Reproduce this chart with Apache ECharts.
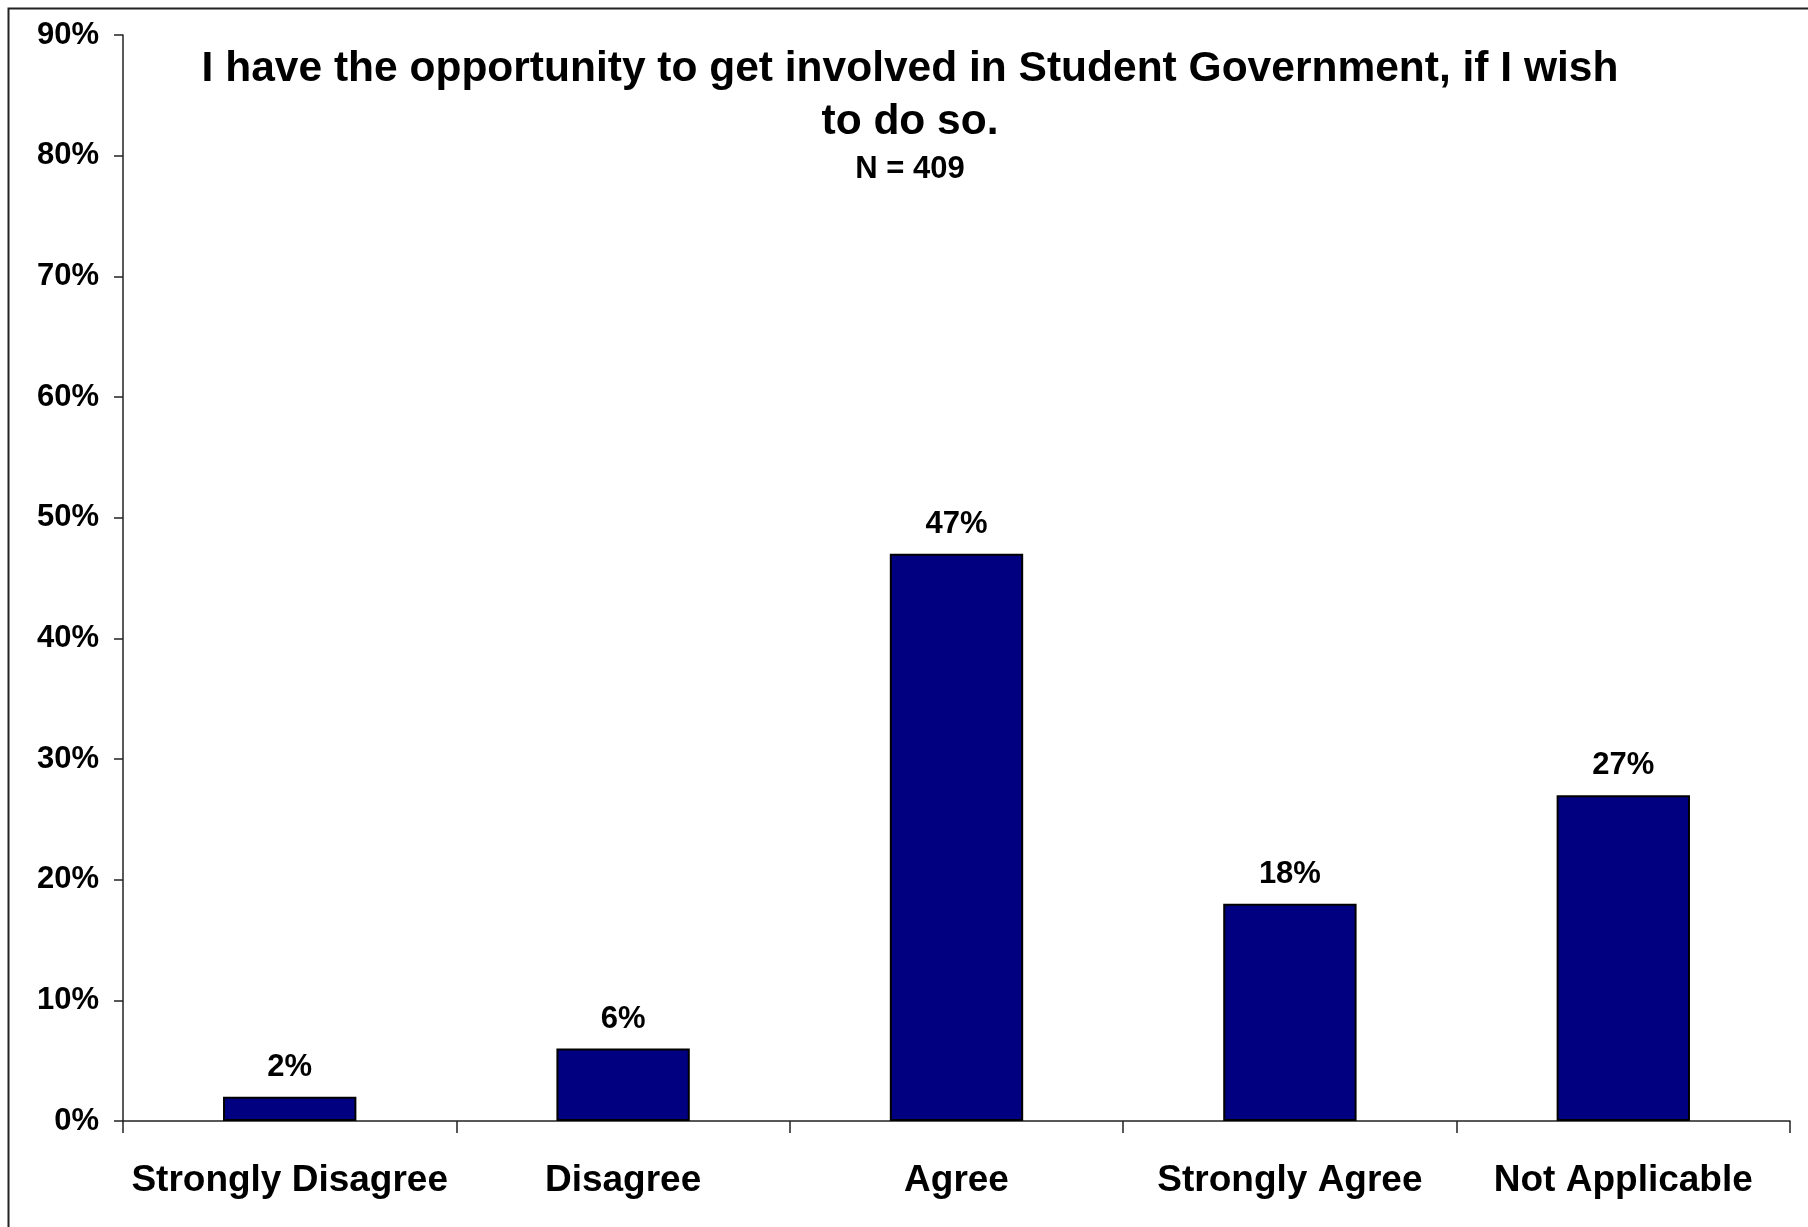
<!DOCTYPE html>
<html>
<head>
<meta charset="utf-8">
<script src="https://cdn.jsdelivr.net/npm/echarts@6/dist/echarts.min.js"></script>
<style>html,body{margin:0;padding:0;background:#fff;}#c{width:1808px;height:1227px;}</style>
</head>
<body>
<div id="c"></div>
<script>
const categories = ['Strongly Disagree', 'Disagree', 'Agree', 'Strongly Agree', 'Not Applicable'];
const percentValues = [2, 6, 47, 18, 27];
const yTickLabels = ['0%', '10%', '20%', '30%', '40%', '50%', '60%', '70%', '80%', '90%'];
const titleText = 'I have the opportunity to get involved in Student Government, if I wish\nto do so.';
const subtitleText = 'N = 409';

const FONT = '"Liberation Sans", Arial, sans-serif';
const chart = echarts.init(document.getElementById('c'), null, {renderer: 'canvas'});
chart.setOption({
  backgroundColor: '#ffffff',
  animation: false,
  title: [
    {
      text: titleText,
      left: 910, top: 43, textAlign: 'center',
      padding: 0,
      textStyle: {fontFamily: FONT, fontWeight: 'bold', fontSize: 42.5, lineHeight: 53, color: '#000'}
    },
    {
      text: subtitleText,
      left: 910, top: 154, textAlign: 'center',
      padding: 0,
      textStyle: {fontFamily: FONT, fontWeight: 'bold', fontSize: 31, color: '#000'}
    }
  ],
  graphic: [{
    type: 'rect', left: 6, top: 6, z: -1, silent: true,
    shape: {width: 1830, height: 1250},
    style: {fill: 'none', stroke: '#222', lineWidth: 2}
  }],
  grid: {left: 123, right: 18, top: 35, bottom: 106, containLabel: false},
  xAxis: {
    type: 'category',
    data: categories,
    axisLine: {show: true, lineStyle: {color: '#222', width: 1.5}},
    axisTick: {show: true, length: 12, lineStyle: {color: '#222', width: 1.5}},
    axisLabel: {fontFamily: FONT, fontWeight: 'bold', fontSize: 37, color: '#000', margin: 41, interval: 0}
  },
  yAxis: {
    type: 'value',
    min: 0, max: 90, interval: 10,
    splitLine: {show: false},
    axisLine: {show: true, lineStyle: {color: '#222', width: 1.5}},
    axisTick: {show: true, length: 9, lineStyle: {color: '#222', width: 1.5}},
    axisLabel: {
      fontFamily: FONT, fontWeight: 'bold', fontSize: 31, color: '#000', margin: 24,
      formatter: function (v) { return yTickLabels[Math.round(v / 10)]; }
    }
  },
  series: [{
    type: 'bar',
    data: percentValues,
    barWidth: '40%',
    itemStyle: {color: '#000080', borderColor: '#000', borderWidth: 2},
    label: {
      show: true, position: 'top', distance: 14,
      fontFamily: FONT, fontWeight: 'bold', fontSize: 31, color: '#000',
      formatter: function (p) { return p.value + '%'; }
    }
  }]
});
</script>
</body>
</html>
